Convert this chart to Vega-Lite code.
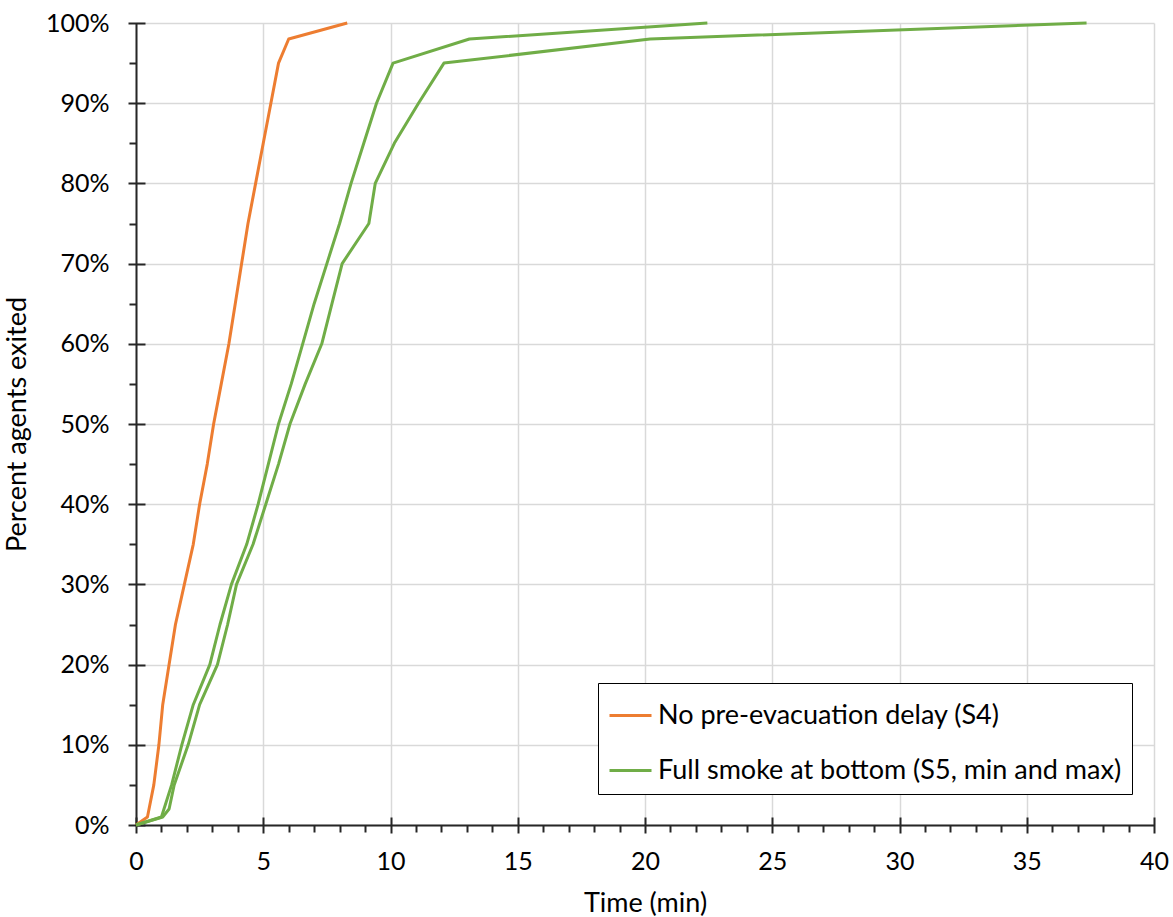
{
  "$schema": "https://vega.github.io/schema/vega-lite/v6.json",
  "autosize": "none",
  "width": 1018,
  "height": 802,
  "padding": {"left": 136, "top": 23, "right": 19, "bottom": 92},
  "background": "white",
  "config": {
    "font": "Lato",
    "view": {"stroke": null},
    "axis": {"labelColor": "#000000", "titleColor": "#000000", "titleFontWeight": "normal"}
  },
  "data": {
    "values": [
      {"scenario": "No pre-evacuation delay (S4)", "run": "S4", "t": 0, "p": 0},
      {"scenario": "No pre-evacuation delay (S4)", "run": "S4", "t": 0.45, "p": 1},
      {"scenario": "No pre-evacuation delay (S4)", "run": "S4", "t": 0.7, "p": 5},
      {"scenario": "No pre-evacuation delay (S4)", "run": "S4", "t": 0.9, "p": 10},
      {"scenario": "No pre-evacuation delay (S4)", "run": "S4", "t": 1.05, "p": 15},
      {"scenario": "No pre-evacuation delay (S4)", "run": "S4", "t": 1.3, "p": 20},
      {"scenario": "No pre-evacuation delay (S4)", "run": "S4", "t": 1.55, "p": 25},
      {"scenario": "No pre-evacuation delay (S4)", "run": "S4", "t": 1.9, "p": 30},
      {"scenario": "No pre-evacuation delay (S4)", "run": "S4", "t": 2.25, "p": 35},
      {"scenario": "No pre-evacuation delay (S4)", "run": "S4", "t": 2.5, "p": 40},
      {"scenario": "No pre-evacuation delay (S4)", "run": "S4", "t": 2.8, "p": 45},
      {"scenario": "No pre-evacuation delay (S4)", "run": "S4", "t": 3.05, "p": 50},
      {"scenario": "No pre-evacuation delay (S4)", "run": "S4", "t": 3.35, "p": 55},
      {"scenario": "No pre-evacuation delay (S4)", "run": "S4", "t": 3.65, "p": 60},
      {"scenario": "No pre-evacuation delay (S4)", "run": "S4", "t": 3.9, "p": 65},
      {"scenario": "No pre-evacuation delay (S4)", "run": "S4", "t": 4.15, "p": 70},
      {"scenario": "No pre-evacuation delay (S4)", "run": "S4", "t": 4.4, "p": 75},
      {"scenario": "No pre-evacuation delay (S4)", "run": "S4", "t": 4.7, "p": 80},
      {"scenario": "No pre-evacuation delay (S4)", "run": "S4", "t": 5.0, "p": 85},
      {"scenario": "No pre-evacuation delay (S4)", "run": "S4", "t": 5.3, "p": 90},
      {"scenario": "No pre-evacuation delay (S4)", "run": "S4", "t": 5.6, "p": 95},
      {"scenario": "No pre-evacuation delay (S4)", "run": "S4", "t": 6.0, "p": 98},
      {"scenario": "No pre-evacuation delay (S4)", "run": "S4", "t": 8.3, "p": 100},

      {"scenario": "Full smoke at bottom (S5, min and max)", "run": "S5min", "t": 0, "p": 0},
      {"scenario": "Full smoke at bottom (S5, min and max)", "run": "S5min", "t": 1.0, "p": 1},
      {"scenario": "Full smoke at bottom (S5, min and max)", "run": "S5min", "t": 1.4, "p": 5},
      {"scenario": "Full smoke at bottom (S5, min and max)", "run": "S5min", "t": 1.8, "p": 10},
      {"scenario": "Full smoke at bottom (S5, min and max)", "run": "S5min", "t": 2.25, "p": 15},
      {"scenario": "Full smoke at bottom (S5, min and max)", "run": "S5min", "t": 2.9, "p": 20},
      {"scenario": "Full smoke at bottom (S5, min and max)", "run": "S5min", "t": 3.3, "p": 25},
      {"scenario": "Full smoke at bottom (S5, min and max)", "run": "S5min", "t": 3.75, "p": 30},
      {"scenario": "Full smoke at bottom (S5, min and max)", "run": "S5min", "t": 4.35, "p": 35},
      {"scenario": "Full smoke at bottom (S5, min and max)", "run": "S5min", "t": 4.8, "p": 40},
      {"scenario": "Full smoke at bottom (S5, min and max)", "run": "S5min", "t": 5.2, "p": 45},
      {"scenario": "Full smoke at bottom (S5, min and max)", "run": "S5min", "t": 5.6, "p": 50},
      {"scenario": "Full smoke at bottom (S5, min and max)", "run": "S5min", "t": 6.1, "p": 55},
      {"scenario": "Full smoke at bottom (S5, min and max)", "run": "S5min", "t": 6.55, "p": 60},
      {"scenario": "Full smoke at bottom (S5, min and max)", "run": "S5min", "t": 7.0, "p": 65},
      {"scenario": "Full smoke at bottom (S5, min and max)", "run": "S5min", "t": 7.5, "p": 70},
      {"scenario": "Full smoke at bottom (S5, min and max)", "run": "S5min", "t": 8.0, "p": 75},
      {"scenario": "Full smoke at bottom (S5, min and max)", "run": "S5min", "t": 8.45, "p": 80},
      {"scenario": "Full smoke at bottom (S5, min and max)", "run": "S5min", "t": 8.95, "p": 85},
      {"scenario": "Full smoke at bottom (S5, min and max)", "run": "S5min", "t": 9.45, "p": 90},
      {"scenario": "Full smoke at bottom (S5, min and max)", "run": "S5min", "t": 10.1, "p": 95},
      {"scenario": "Full smoke at bottom (S5, min and max)", "run": "S5min", "t": 13.1, "p": 98},
      {"scenario": "Full smoke at bottom (S5, min and max)", "run": "S5min", "t": 22.45, "p": 100},

      {"scenario": "Full smoke at bottom (S5, min and max)", "run": "S5max", "t": 0, "p": 0},
      {"scenario": "Full smoke at bottom (S5, min and max)", "run": "S5max", "t": 1.05, "p": 1},
      {"scenario": "Full smoke at bottom (S5, min and max)", "run": "S5max", "t": 1.3, "p": 2},
      {"scenario": "Full smoke at bottom (S5, min and max)", "run": "S5max", "t": 1.5, "p": 5},
      {"scenario": "Full smoke at bottom (S5, min and max)", "run": "S5max", "t": 2.05, "p": 10},
      {"scenario": "Full smoke at bottom (S5, min and max)", "run": "S5max", "t": 2.5, "p": 15},
      {"scenario": "Full smoke at bottom (S5, min and max)", "run": "S5max", "t": 3.2, "p": 20},
      {"scenario": "Full smoke at bottom (S5, min and max)", "run": "S5max", "t": 3.6, "p": 25},
      {"scenario": "Full smoke at bottom (S5, min and max)", "run": "S5max", "t": 3.95, "p": 30},
      {"scenario": "Full smoke at bottom (S5, min and max)", "run": "S5max", "t": 4.6, "p": 35},
      {"scenario": "Full smoke at bottom (S5, min and max)", "run": "S5max", "t": 5.1, "p": 40},
      {"scenario": "Full smoke at bottom (S5, min and max)", "run": "S5max", "t": 5.6, "p": 45},
      {"scenario": "Full smoke at bottom (S5, min and max)", "run": "S5max", "t": 6.05, "p": 50},
      {"scenario": "Full smoke at bottom (S5, min and max)", "run": "S5max", "t": 6.65, "p": 55},
      {"scenario": "Full smoke at bottom (S5, min and max)", "run": "S5max", "t": 7.3, "p": 60},
      {"scenario": "Full smoke at bottom (S5, min and max)", "run": "S5max", "t": 7.7, "p": 65},
      {"scenario": "Full smoke at bottom (S5, min and max)", "run": "S5max", "t": 8.1, "p": 70},
      {"scenario": "Full smoke at bottom (S5, min and max)", "run": "S5max", "t": 9.15, "p": 75},
      {"scenario": "Full smoke at bottom (S5, min and max)", "run": "S5max", "t": 9.4, "p": 80},
      {"scenario": "Full smoke at bottom (S5, min and max)", "run": "S5max", "t": 10.15, "p": 85},
      {"scenario": "Full smoke at bottom (S5, min and max)", "run": "S5max", "t": 11.1, "p": 90},
      {"scenario": "Full smoke at bottom (S5, min and max)", "run": "S5max", "t": 12.1, "p": 95},
      {"scenario": "Full smoke at bottom (S5, min and max)", "run": "S5max", "t": 20.2, "p": 98},
      {"scenario": "Full smoke at bottom (S5, min and max)", "run": "S5max", "t": 37.35, "p": 100}
    ]
  },
  "layer": [
    {
      "mark": {"type": "line", "strokeWidth": 3, "strokeJoin": "round"},
      "encoding": {
        "x": {
          "field": "t", "type": "quantitative",
          "scale": {"domain": [0, 40], "nice": false, "zero": false},
          "axis": {
            "orient": "bottom",
            "values": [0, 5, 10, 15, 20, 25, 30, 35, 40],
            "ticks": false,
            "domain": true, "domainColor": "#262626", "domainWidth": 2,
            "grid": true, "gridColor": "#D9D9D9", "gridWidth": 1.5,
            "labelFontSize": 25, "labelPadding": 24, "labelFlush": false,
            "title": "Time (min)", "titleFontSize": 27, "titlePadding": 16
          }
        },
        "y": {
          "field": "p", "type": "quantitative",
          "scale": {"domain": [0, 100], "nice": false},
          "axis": {
            "orient": "left",
            "values": [0, 10, 20, 30, 40, 50, 60, 70, 80, 90, 100],
            "labelExpr": "datum.value + '%'",
            "ticks": false,
            "domain": true, "domainColor": "#262626", "domainWidth": 2,
            "grid": true, "gridColor": "#D9D9D9", "gridWidth": 1.5,
            "labelFontSize": 25, "labelPadding": 27, "labelFlush": false,
            "title": "Percent agents exited", "titleFontSize": 27, "titlePadding": 14
          }
        },
        "color": {
          "field": "scenario", "type": "nominal",
          "scale": {
            "domain": ["No pre-evacuation delay (S4)", "Full smoke at bottom (S5, min and max)"],
            "range": ["#ED7D31", "#70AD47"]
          },
          "legend": {
            "title": null,
            "orient": "none",
            "legendX": 462,
            "legendY": 660,
            "symbolType": "stroke",
            "symbolSize": 1764,
            "symbolStrokeWidth": 3,
            "labelFontSize": 27,
            "labelColor": "#000000",
            "labelOffset": 5,
            "labelLimit": 700,
            "rowPadding": 19,
            "padding": 10,
            "strokeColor": "#000000",
            "fillColor": "#FFFFFF"
          }
        },
        "detail": {"field": "run", "type": "nominal"}
      }
    },
    {
      "mark": {"type": "point", "opacity": 0},
      "encoding": {
        "x": {
          "field": "t", "type": "quantitative",
          "axis": {
            "orient": "bottom", "offset": -8,
            "values": [0, 5, 10, 15, 20, 25, 30, 35, 40],
            "ticks": true, "tickSize": 16, "tickWidth": 2, "tickColor": "#262626",
            "domain": false, "grid": false, "labels": false, "title": null
          }
        },
        "y": {
          "field": "p", "type": "quantitative",
          "axis": {
            "orient": "left", "offset": -9,
            "values": [0, 10, 20, 30, 40, 50, 60, 70, 80, 90, 100],
            "ticks": true, "tickSize": 17, "tickWidth": 2, "tickColor": "#262626",
            "domain": false, "grid": false, "labels": false, "title": null
          }
        },
        "detail": {"field": "run", "type": "nominal"}
      }
    },
    {
      "mark": {"type": "point", "opacity": 0},
      "encoding": {
        "x": {
          "field": "t", "type": "quantitative",
          "axis": {
            "orient": "bottom",
            "values": [1, 2, 3, 4, 6, 7, 8, 9, 11, 12, 13, 14, 16, 17, 18, 19, 21, 22, 23, 24, 26, 27, 28, 29, 31, 32, 33, 34, 36, 37, 38, 39],
            "ticks": true, "tickSize": 7, "tickWidth": 2, "tickColor": "#262626",
            "domain": false, "grid": false, "labels": false, "title": null
          }
        },
        "y": {
          "field": "p", "type": "quantitative",
          "axis": {
            "orient": "left",
            "values": [5, 15, 25, 35, 45, 55, 65, 75, 85, 95],
            "ticks": true, "tickSize": 7, "tickWidth": 2, "tickColor": "#262626",
            "domain": false, "grid": false, "labels": false, "title": null
          }
        },
        "detail": {"field": "run", "type": "nominal"}
      }
    }
  ],
  "resolve": {"axis": {"x": "independent", "y": "independent"}}
}
